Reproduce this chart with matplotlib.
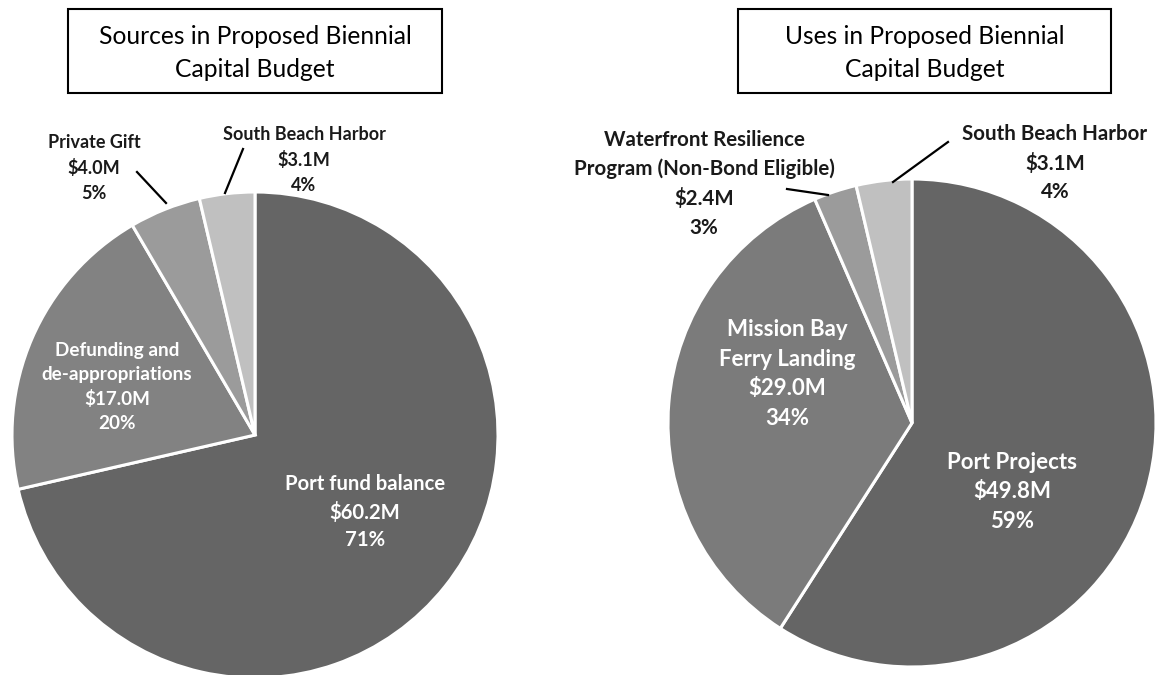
#!/usr/bin/env python3
"""
    Sources and uses pies for the proposed biennial capital budget
"""

from matplotlib import pyplot as plt
from matplotlib.patches import Rectangle

# data
src_labels = ["Port fund balance", "Defunding and\nde-appropriations", "Private Gift", "South Beach Harbor"]
src_values = [60.2, 17.0, 4.0, 3.1]
src_pct = ["71%", "20%", "5%", "4%"]

use_labels = ["Port Projects", "Mission Bay\nFerry Landing",
              "Waterfront Resilience\nProgram (Non-Bond Eligible)", "South Beach Harbor"]
use_values = [49.8, 29.0, 2.4, 3.1]
use_pct = ["59%", "34%", "3%", "4%"]

src_colors = ["#656565", "#828282", "#9b9b9b", "#c0c0c0"]
use_colors = ["#656565", "#7b7b7b", "#9b9b9b", "#c0c0c0"]

FONT = "Lato"
W, H = 1155, 675


def label_text(name, value, pct):
    return f"{name}\n${value:.1f}M\n{pct}"


def main() -> int:
    fig = plt.figure(figsize=(W / 100, H / 100), dpi=100)
    ax = fig.add_axes([0, 0, 1, 1])

    # pies (y axis runs downward, so angles are mirrored: counterclock=True gives clockwise)
    wedge = dict(edgecolor="white", linewidth=2.2)
    ax.pie(src_values, colors=src_colors, startangle=-90, counterclock=True,
           center=(255, 435), radius=243, wedgeprops=wedge, frame=True)
    ax.pie(use_values, colors=use_colors, startangle=-90, counterclock=True,
           center=(912, 423), radius=244, wedgeprops=wedge, frame=True)
    ax.set_xlim(0, W)
    ax.set_ylim(H, 0)
    ax.set_aspect("equal")
    ax.axis("off")

    # title boxes
    for x0, x1, title in [(68, 442, "Sources in Proposed Biennial\nCapital Budget"),
                          (738, 1111, "Uses in Proposed Biennial\nCapital Budget")]:
        ax.add_patch(Rectangle((x0, 9), x1 - x0, 84, fill=False, edgecolor="black", linewidth=1.5))
        ax.text((x0 + x1) / 2, 53, title, ha="center", va="center", fontsize=17.7,
                family=FONT, linespacing=1.55)

    inside = dict(ha="center", va="center", color="white", fontweight="bold", family=FONT)
    outside = dict(ha="center", va="center", color="#1a1a1a", fontweight="bold", family=FONT)

    # left pie labels
    ax.text(365, 512, label_text(src_labels[0], src_values[0], src_pct[0]), fontsize=14.6,
            linespacing=1.45, **inside)
    ax.text(117, 387, label_text(src_labels[1], src_values[1], src_pct[1]), fontsize=13.6,
            linespacing=1.5, **inside)
    ax.text(94, 168, label_text(src_labels[2], src_values[2], src_pct[2]), fontsize=13,
            linespacing=1.55, **outside)
    ax.text(304, 160, label_text(src_labels[3], src_values[3], src_pct[3]), fontsize=13,
            linespacing=1.55, **outside)
    ax.plot([137, 166], [172, 203], color="black", lw=1.6)
    ax.plot([243, 225], [149, 193], color="black", lw=1.6)

    # right pie labels
    ax.text(1012, 492, label_text(use_labels[0], use_values[0], use_pct[0]), fontsize=16,
            linespacing=1.5, **inside)
    ax.text(787, 374, label_text(use_labels[1], use_values[1], use_pct[1]), fontsize=16,
            linespacing=1.5, **inside)
    ax.text(704, 184, label_text(use_labels[2], use_values[2], use_pct[2]), fontsize=14.8,
            linespacing=1.53, **outside)
    ax.text(1055, 163, label_text(use_labels[3], use_values[3], use_pct[3]), fontsize=14.8,
            linespacing=1.53, **outside)
    ax.plot([787, 828], [189, 195], color="black", lw=1.6)
    ax.plot([948, 893], [142, 182], color="black", lw=1.6)

    fig.savefig("out.png", dpi=100, facecolor="white")
    plt.close()

    return 0


if __name__ == "__main__":
    raise SystemExit(main())
